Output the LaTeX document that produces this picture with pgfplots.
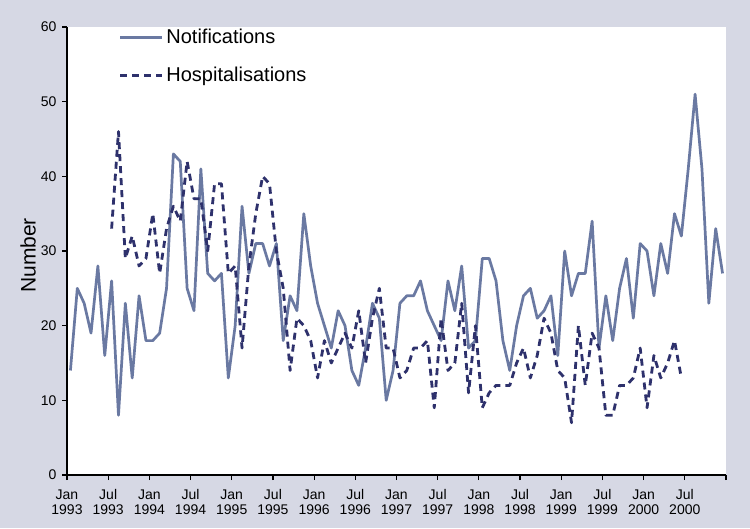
\documentclass[border=0pt]{standalone}
\usepackage{pgfplots}
\pgfplotsset{compat=1.18}
\usepackage{pgfplotstable}
\usepackage{fontspec}
\setmainfont{Liberation Sans}
\definecolor{bgc}{RGB}{214,216,228}
\definecolor{notc}{RGB}{106,121,162}
\definecolor{hosc}{RGB}{46,49,108}
\pgfplotstableread{
x y
0.5 14
1.5 25
2.5 23
3.5 19
4.5 28
5.5 16
6.5 26
7.5 8
8.5 23
9.5 13
10.5 24
11.5 18
12.5 18
13.5 19
14.5 25
15.5 43
16.5 42
17.5 25
18.5 22
19.5 41
20.5 27
21.5 26
22.5 27
23.5 13
24.5 20
25.5 36
26.5 27
27.5 31
28.5 31
29.5 28
30.5 31
31.5 18
32.5 24
33.5 22
34.5 35
35.5 28
36.5 23
37.5 20
38.5 17
39.5 22
40.5 20
41.5 14
42.5 12
43.5 17
44.5 23
45.5 21
46.5 10
47.5 14
48.5 23
49.5 24
50.5 24
51.5 26
52.5 22
53.5 20
54.5 18
55.5 26
56.5 22
57.5 28
58.5 17
59.5 18
60.5 29
61.5 29
62.5 26
63.5 18
64.5 14
65.5 20
66.5 24
67.5 25
68.5 21
69.5 22
70.5 24
71.5 16
72.5 30
73.5 24
74.5 27
75.5 27
76.5 34
77.5 17
78.5 24
79.5 18
80.5 25
81.5 29
82.5 21
83.5 31
84.5 30
85.5 24
86.5 31
87.5 27
88.5 35
89.5 32
90.5 41
91.5 51
92.5 41
93.5 23
94.5 33
95.5 27
}\notif
\pgfplotstableread{
x y
6.5 33
7.5 46
8.5 29
9.5 32
10.5 28
11.5 29
12.5 35
13.5 27
14.5 33
15.5 36
16.5 34
17.5 42
18.5 37
19.5 37
20.5 30
21.5 39
22.5 39
23.5 27
24.5 28
25.5 17
26.5 28
27.5 35
28.5 40
29.5 39
30.5 30
31.5 25
32.5 14
33.5 21
34.5 20
35.5 18
36.5 13
37.5 18
38.5 15
39.5 17
40.5 19
41.5 17
42.5 22
43.5 15
44.5 21
45.5 25
46.5 17
47.5 17
48.5 13
49.5 14
50.5 17
51.5 17
52.5 18
53.5 9
54.5 21
55.5 14
56.5 15
57.5 23
58.5 11
59.5 20
60.5 9
61.5 11
62.5 12
63.5 12
64.5 12
65.5 15
66.5 17
67.5 13
68.5 16
69.5 21
70.5 19
71.5 14
72.5 13
73.5 7
74.5 20
75.5 12
76.5 19
77.5 17
78.5 8
79.5 8
80.5 12
81.5 12
82.5 13
83.5 17
84.5 9
85.5 16
86.5 13
87.5 15
88.5 18
89.5 13
}\hosp
\begin{document}
\begin{tikzpicture}[x=1pt,y=1pt]
\useasboundingbox (0,0) rectangle (750,528);
\fill[bgc] (0,0) rectangle (750,528);
\begin{axis}[
  at={(67pt,53pt)}, anchor=south west,
  scale only axis, width=659pt, height=448pt,
  axis background/.style={fill=white},
  axis x line*=bottom, axis y line*=left,
  axis line style={black, line width=1.3pt},
  xmin=0, xmax=96, ymin=0, ymax=60,
  xtick={0,6,...,96},
  xticklabels={Jan\\1993,Jul\\1993,Jan\\1994,Jul\\1994,Jan\\1995,Jul\\1995,Jan\\1996,Jul\\1996,Jan\\1997,Jul\\1997,Jan\\1998,Jul\\1998,Jan\\1999,Jul\\1999,Jan\\2000,Jul\\2000,{}},
  xticklabel style={align=center, font=\fontsize{14}{15}\selectfont, yshift=-6pt},
  ytick={0,10,...,60},
  yticklabel style={font=\fontsize{14}{16}\selectfont, xshift=-2pt},
  /pgf/number format/assume math mode=true,
  tick align=outside, major tick length=5pt,
  tick style={black, line width=1.2pt},
  ylabel={Number},
  ylabel style={font=\fontsize{21}{24}\selectfont, at={(axis description cs:-0.059,0.49)}, anchor=center},
  legend style={draw=none, fill=none, at={(axis description cs:0.078,0.995)}, anchor=north west,
    font=\fontsize{20}{24}\selectfont, row sep=22pt, inner sep=0pt,
    nodes={inner xsep=3pt, inner ysep=0pt}},
  legend cell align=left,
  legend image code/.code={\draw[#1] (0pt,0pt) -- (42pt,0pt);},
]
\addplot[notc, line width=2.7pt, line join=round] table[x=x,y=y] {\notif};
\addlegendentry{Notifications}
\addplot[hosc, line width=2.8pt, dash pattern=on 7pt off 5pt, line join=round] table[x=x,y=y] {\hosp};
\addlegendentry{Hospitalisations}
\end{axis}
\end{tikzpicture}
\end{document}
